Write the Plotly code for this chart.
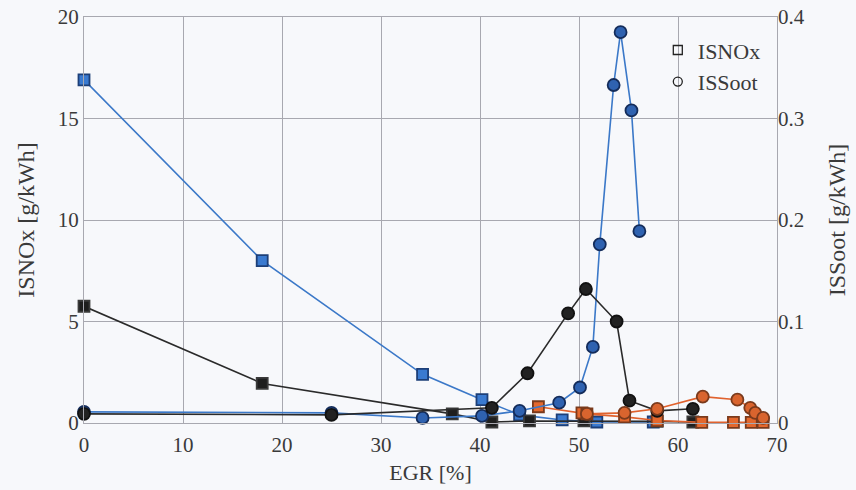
import plotly.graph_objects as go

# EGR sweep data, three operating cases (blue, black, orange)
egr_nox_blue = [0, 18, 34.2, 40.2, 44.0, 48.3, 51.8, 57.5]
nox_blue = [16.9, 8.0, 2.4, 1.15, 0.4, 0.15, 0.05, 0.05]

egr_soot_blue = [0, 25, 34.2, 40.2, 44.0, 48.0, 50.1, 51.4, 52.1, 53.5, 54.2, 55.3, 56.1]
soot_blue = [0.011, 0.010, 0.005, 0.007, 0.012, 0.020, 0.035, 0.075, 0.176, 0.333, 0.385, 0.308, 0.189]

egr_nox_black = [0, 18, 37.2, 41.2, 45.0, 50.5, 57.9, 61.5]
nox_black = [5.75, 1.95, 0.45, 0.05, 0.1, 0.1, 0.08, 0.05]

egr_soot_black = [0, 25, 41.2, 44.8, 48.9, 50.7, 53.8, 55.1, 57.9, 61.5]
soot_black = [0.009, 0.008, 0.015, 0.049, 0.108, 0.132, 0.100, 0.022, 0.012, 0.014]

egr_nox_orange = [45.9, 50.3, 50.8, 54.6, 57.9, 62.4, 65.6, 67.4, 68.6]
nox_orange = [0.8, 0.5, 0.45, 0.3, 0.12, 0.03, 0.03, 0.03, 0.03]

egr_soot_orange = [50.8, 54.6, 57.9, 62.5, 66.0, 67.3, 67.8, 68.6]
soot_orange = [0.009, 0.010, 0.014, 0.026, 0.023, 0.015, 0.010, 0.005]

x_ticks = [0, 10, 20, 30, 40, 50, 60, 70]
nox_ticks = [0, 5, 10, 15, 20]
soot_ticks = [0, 0.1, 0.2, 0.3, 0.4]
soot_tick_text = ["0", "0.1", "0.2", "0.3", "0.4"]

FONT = "Liberation Serif"
BLUE = "#3b78c8"
BLUE_EDGE = "#1d3f78"
BLACK = "#2a2a2a"
ORANGE = "#e0622e"
ORANGE_EDGE = "#7a3a1c"
TEXT = "#3a3a3a"

fig = go.Figure()


def add_series(x, y, color, fill, edge, symbol, axis, size):
    fig.add_trace(go.Scatter(
        x=x, y=y, mode="lines+markers", yaxis=axis, showlegend=False,
        line=dict(color=color, width=1.6),
        marker=dict(symbol=symbol, size=size, color=fill,
                    line=dict(color=edge, width=1.8)),
        cliponaxis=False,
    ))


# soot curves (right axis)
add_series(egr_soot_blue, soot_blue, BLUE, "#2f62b0", "#142c5a", "circle", "y2", 12)
add_series(egr_soot_black, soot_black, BLACK, "#222222", "#111111", "circle", "y2", 12)
add_series(egr_soot_orange, soot_orange, ORANGE, "#d9642e", ORANGE_EDGE, "circle", "y2", 12)

# NOx curves (left axis)
add_series(egr_nox_blue, nox_blue, BLUE, "#3a7ad0", BLUE_EDGE, "square", "y", 11)
add_series(egr_nox_black, nox_black, BLACK, "#1e1e1e", "#3a3a3a", "square", "y", 11)
add_series(egr_nox_orange, nox_orange, ORANGE, "#e4682e", ORANGE_EDGE, "square", "y", 11)

# legend entries with open markers
fig.add_trace(go.Scatter(x=[None], y=[None], mode="markers", name="ISNOx",
                         marker=dict(symbol="square-open", size=9, color="#222",
                                     line=dict(width=1.3))))
fig.add_trace(go.Scatter(x=[None], y=[None], mode="markers", name="ISSoot",
                         marker=dict(symbol="circle-open", size=9, color="#222",
                                     line=dict(width=1.3))))

grid = "#a8a8b0"
tick_font = dict(family=FONT, size=21, color=TEXT)
fig.update_layout(
    width=856, height=490,
    margin=dict(l=84, r=79, t=17, b=67),
    paper_bgcolor="#f7f8fb", plot_bgcolor="#f7f8fb",
    font=dict(family=FONT, size=21, color=TEXT),
    showlegend=True,
    legend=dict(x=0.828, y=0.97, xanchor="left", yanchor="top",
                bgcolor="rgba(0,0,0,0)", borderwidth=0,
                font=dict(family=FONT, size=22, color=TEXT),
                tracegroupgap=0, itemwidth=30),
    xaxis=dict(range=[0, 70], tickvals=x_ticks, showgrid=True, gridcolor=grid,
               gridwidth=1, zeroline=False, showline=True, linecolor=grid,
               mirror=True, ticks="", ticklabelstandoff=3, automargin=False,
               tickfont=tick_font,
               title=dict(text="EGR [%]", standoff=8, font=dict(size=22))),
    yaxis=dict(range=[0, 20], tickvals=nox_ticks, showgrid=True, gridcolor=grid,
               gridwidth=1, zeroline=False, showline=True, linecolor=grid,
               mirror=True, ticks="", automargin=False, tickfont=tick_font,
               title=dict(text="ISNOx [g/kWh]", standoff=16, font=dict(size=24))),
    yaxis2=dict(range=[0, 0.4], tickvals=soot_ticks, ticktext=soot_tick_text,
                overlaying="y", side="right", showgrid=False, zeroline=False,
                showline=False, ticks="", automargin=False, tickfont=tick_font,
                title=dict(text="ISSoot [g/kWh]", standoff=24, font=dict(size=24))),
)

fig.write_html("out.html")
